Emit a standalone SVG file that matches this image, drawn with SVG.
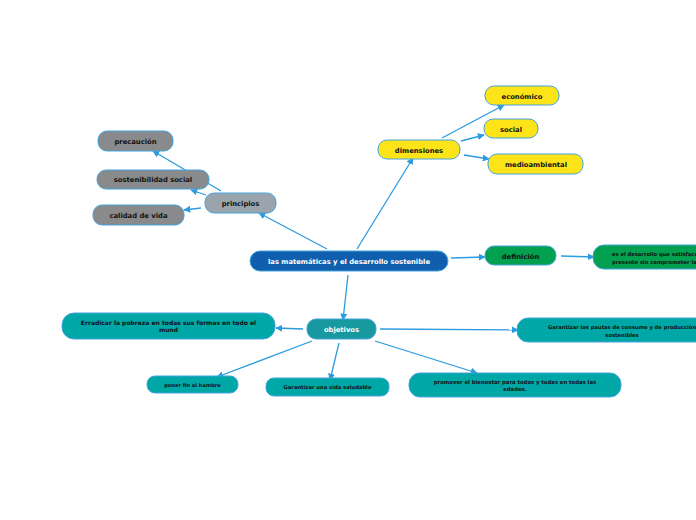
<svg xmlns="http://www.w3.org/2000/svg" width="696" height="520" viewBox="0 0 696 520">
<defs>
<marker id="ah" viewBox="0 0 10 10" refX="9" refY="5" markerWidth="7" markerHeight="7" markerUnits="userSpaceOnUse" orient="auto">
<path d="M0,0 L10,5 L0,10 z" fill="#2b9be0"/>
</marker>
</defs>
<style>
.n rect{stroke:#45a3dd;stroke-width:1}
.t{font-family:"DejaVu Sans",Verdana,sans-serif;font-weight:bold;text-anchor:middle;fill:#111}
.s{text-anchor:start}
.w{fill:#fff}
.c line{stroke:#2b9be0;stroke-width:1.3;marker-end:url(#ah)}
.y{fill:#fde419}.g{fill:#888a8c}.gp{fill:#9aa4ad}.gr{fill:#03a04f}.tl{fill:#00a7a7}
</style>
<rect width="696" height="520" fill="#fff"/>
<g class="c">
<line x1="357" y1="249" x2="413" y2="158"/>
<line x1="442" y1="138" x2="504" y2="105"/>
<line x1="461" y1="141" x2="484" y2="135"/>
<line x1="464" y1="155" x2="489" y2="159"/>
<line x1="327" y1="249" x2="259" y2="213"/>
<line x1="221" y1="191" x2="153" y2="151"/>
<line x1="206" y1="195" x2="191" y2="190"/>
<line x1="201" y1="208" x2="184" y2="210"/>
<line x1="451" y1="258" x2="485" y2="257"/>
<line x1="561" y1="256" x2="594" y2="257"/>
<line x1="348" y1="275" x2="343" y2="320"/>
<line x1="303" y1="329" x2="276" y2="328"/>
<line x1="380" y1="329" x2="518" y2="330"/>
<line x1="312" y1="341" x2="217" y2="377"/>
<line x1="339" y1="343" x2="330" y2="380"/>
<line x1="375" y1="341" x2="477" y2="373"/>
</g>
<g id="central" class="n"><rect x="250" y="251" width="198" height="20" rx="10" fill="#0f5fae"/><text class="t w" x="349" y="263.5" font-size="6.8">las matemáticas y el desarrollo sostenible</text></g>
<g id="dimensiones" class="n"><rect x="378" y="140" width="82" height="19" rx="9" class="y"/><text class="t" x="419" y="152.5" font-size="6.8">dimensiones</text></g>
<g id="economico" class="n"><rect x="485" y="86" width="74" height="19" rx="9" class="y"/><text class="t" x="522" y="98.5" font-size="6.8">económico</text></g>
<g id="social" class="n"><rect x="484" y="119" width="54" height="19" rx="9" class="y"/><text class="t" x="511" y="131.5" font-size="6.8">social</text></g>
<g id="medioambiental" class="n"><rect x="488" y="154" width="95" height="20" rx="9" class="y"/><text class="t" x="536" y="166.5" font-size="6.8">medioambiental</text></g>
<g id="principios" class="n"><rect x="205" y="193" width="71" height="20" rx="9" class="gp"/><text class="t" x="240.5" y="205.5" font-size="6.8">principios</text></g>
<g id="precaucion" class="n"><rect x="98" y="131" width="75" height="20" rx="9" class="g"/><text class="t" x="135.5" y="143.5" font-size="6.8">precaución</text></g>
<g id="sostenibilidad" class="n"><rect x="97" y="170" width="112" height="19" rx="9" class="g"/><text class="t" x="153" y="182" font-size="6.8">sostenibilidad social</text></g>
<g id="calidad" class="n"><rect x="93" y="205" width="91" height="20" rx="9" class="g"/><text class="t" x="138.5" y="217.5" font-size="6.8">calidad de vida</text></g>
<g id="definicion" class="n"><rect x="485" y="246" width="71" height="19" rx="9" class="gr"/><text class="t" x="520.5" y="258.5" font-size="6.8">definición</text></g>
<g id="def-texto" class="n"><rect x="593" y="245" width="140" height="24" rx="11" class="gr"/><text class="t s" x="612" y="256" font-size="5.2">es el desarrollo que satisface las</text><text class="t s" x="612" y="263.5" font-size="5.2">presente sin comprometer las</text></g>
<g id="objetivos" class="n"><rect x="307" y="319" width="69" height="20" rx="9" fill="#17999f"/><text class="t w" x="341.5" y="331.5" font-size="6.8">objetivos</text></g>
<g id="erradicar" class="n"><rect x="62" y="313" width="213" height="26" rx="12" class="tl"/><text class="t" x="168.5" y="324.5" font-size="6">Erradicar la pobreza en todas sus formas en todo el</text><text class="t" x="168.5" y="332" font-size="6">mund</text></g>
<g id="pautas" class="n"><rect x="517" y="318" width="220" height="24" rx="11" class="tl"/><text class="t" x="622" y="329" font-size="5.2">Garantizar las pautas de consumo y de producción</text><text class="t" x="622" y="336.5" font-size="5.2">sostenibles</text></g>
<g id="hambre" class="n"><rect x="147" y="376" width="91" height="17" rx="8" class="tl"/><text class="t" x="192.5" y="386.5" font-size="5.1">poner fin al hambre</text></g>
<g id="saludable" class="n"><rect x="266" y="378" width="123" height="18" rx="8" class="tl"/><text class="t" x="327.5" y="389" font-size="5.2">Garantizar una vida saludable</text></g>
<g id="bienestar" class="n"><rect x="409" y="373" width="212" height="24" rx="11" class="tl"/><text class="t" x="515" y="383.5" font-size="5.3">promover el bienestar para todos y todas en todas las</text><text class="t" x="515" y="391" font-size="5.3">edades.</text></g>
</svg>
